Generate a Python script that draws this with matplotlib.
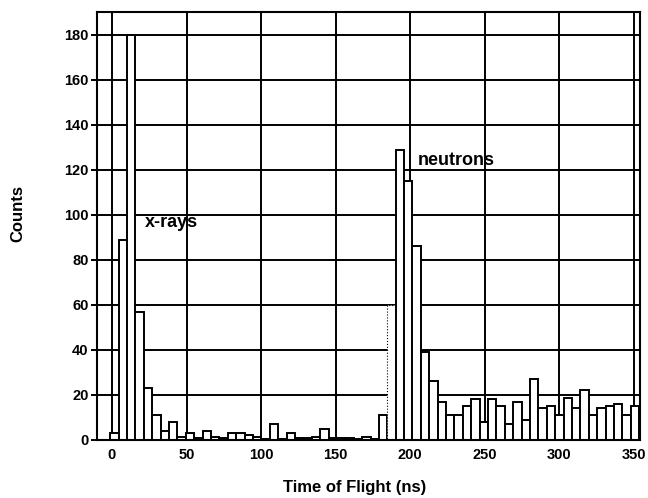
import numpy as np
import matplotlib
matplotlib.use("Agg")
import matplotlib.pyplot as plt

plt.rcParams['font.family'] = ['Liberation Sans', 'DejaVu Sans']
plt.rcParams['font.weight'] = 'bold'

# histogram: 63 bins of ~5.63 ns starting at -1.2 ns
bin_start = -1.2
bin_width = 5.63
counts = [3, 89, 180, 57, 23, 11, 4, 8, 1.5, 3,
          1, 4, 1.5, 1, 3, 3, 2, 1.5, 0.5, 7,
          0.5, 3, 0.8, 0.8, 1.5, 5, 0.8, 0.8, 0.8, 0.3,
          1.5, 0.3, 11, 60, 129, 115, 86, 39, 26, 17,
          11, 11, 15, 18, 8, 18, 15, 7, 17, 9,
          27, 14, 15, 11, 18.5, 14, 22, 11, 14, 15,
          16, 11, 15]
xticks = [0, 50, 100, 150, 200, 250, 300, 350]
yticks = [0, 20, 40, 60, 80, 100, 120, 140, 160, 180]

edges = bin_start + bin_width * np.arange(len(counts))

fig = plt.figure(figsize=(6.48, 4.98), dpi=100)
ax = fig.add_axes([0.1497, 0.1165, 0.8380, 0.8588])

for v in xticks:
    ax.axvline(v, color='black', lw=1.4, zorder=1)
for v in yticks:
    ax.axhline(v, color='black', lw=1.4, zorder=1)

bars = ax.bar(edges, counts, width=bin_width, align='edge',
              facecolor='white', edgecolor='black', linewidth=1.4, zorder=2)
# the ~60 bar is only faintly outlined in the original
bars[33].set_linestyle(':')
bars[33].set_linewidth(0.8)

ax.set_xlim(-10, 354)
ax.set_ylim(0, 190)
ax.set_xticks(xticks)
ax.set_yticks(yticks)
ax.tick_params(axis='x', length=0, labelsize=10.5, pad=6)
ax.tick_params(axis='y', length=4, width=1.4, direction='out', labelsize=10.5, pad=2)
for s in ax.spines.values():
    s.set_linewidth(1.5)

ax.text(22.3, 96.5, 'x-rays', fontsize=13, fontweight='bold', va='center', ha='left', zorder=3)
ax.text(205, 124, 'neutrons', fontsize=13, fontweight='bold', va='center', ha='left', zorder=3)

ax.set_xlabel('Time of Flight (ns)', fontsize=12, fontweight='bold', va='center')
ax.xaxis.set_label_coords(0.474, -0.112)
ax.set_ylabel('Counts', fontsize=12, fontweight='bold', va='center')
ax.yaxis.set_label_coords(-0.145, 0.53)

fig.savefig('out.png', dpi=100)
